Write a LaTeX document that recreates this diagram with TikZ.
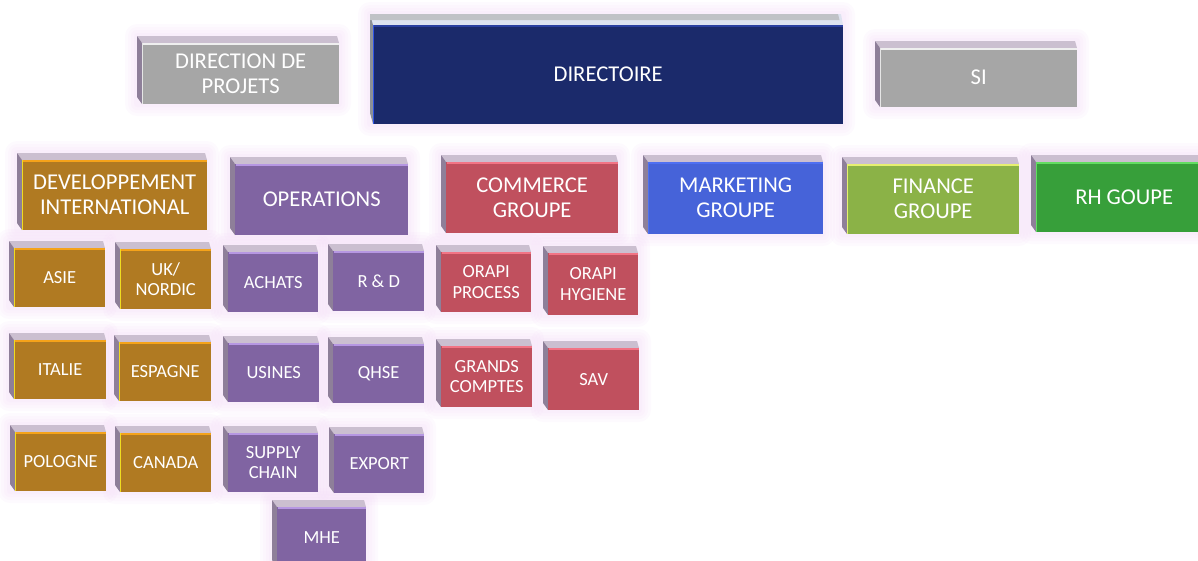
\documentclass[tikz,border=0pt]{standalone}
\usepackage{fontspec}
\setmainfont{Carlito}
\pgfdeclarelayer{glow}
\pgfsetlayers{glow,main}
% bevel colours
\definecolor{bevT}{HTML}{CBBFD0}
\definecolor{bevL}{HTML}{8E7F99}
\definecolor{glowc}{HTML}{F2D8F6}
% families: F fill, T top line, L left line, BT bevel top, BL bevel left
\definecolor{greyF}{HTML}{A6A6A6}\definecolor{greyT}{HTML}{EFEFEF}\definecolor{greyL}{HTML}{E6E6E6}
\colorlet{greyBT}{bevT}\colorlet{greyBL}{bevL}
\definecolor{navyF}{HTML}{1B2A6B}\definecolor{navyT}{HTML}{2A3FA0}\definecolor{navyL}{HTML}{3054E6}
\definecolor{navyBT}{HTML}{DEE3F0}\definecolor{navyBL}{HTML}{8C9098}
\definecolor{goldF}{HTML}{B07A22}\definecolor{goldT}{HTML}{F5A31A}\definecolor{goldL}{HTML}{F0DC20}
\colorlet{goldBT}{bevT}\colorlet{goldBL}{bevL}
\definecolor{purpF}{HTML}{8064A2}\definecolor{purpT}{HTML}{B697E2}\definecolor{purpL}{HTML}{8064A2}
\colorlet{purpBT}{bevT}\colorlet{purpBL}{bevL}
\definecolor{redF}{HTML}{C0505E}\definecolor{redT}{HTML}{F27485}\definecolor{redL}{HTML}{C0505E}
\colorlet{redBT}{bevT}\colorlet{redBL}{bevL}
\definecolor{blueF}{HTML}{4663D9}\definecolor{blueT}{HTML}{4F70F2}\definecolor{blueL}{HTML}{4F70F2}
\colorlet{blueBT}{bevT}\colorlet{blueBL}{bevL}
\definecolor{lgrnF}{HTML}{8BB247}\definecolor{lgrnT}{HTML}{E6F070}\definecolor{lgrnL}{HTML}{E6F070}
\colorlet{lgrnBT}{bevT}\colorlet{lgrnBL}{bevL}
\definecolor{grnF}{HTML}{379F3A}\definecolor{grnT}{HTML}{62DE62}\definecolor{grnL}{HTML}{62DE62}
\colorlet{grnBT}{bevT}\colorlet{grnBL}{bevL}
\newcommand\Lg{\fontsize{22.6}{25}\selectfont}
\newcommand\Sm{\fontsize{18.5}{20.5}\selectfont}
\def\bdx{5}\def\bdy{7}
% #1 name, #2 x0, #3 y0, #4 w, #5 h, #6 family, #7 text, #8 font
\newcommand\orgbox[8]{%
  \begin{pgfonlayer}{glow}
    \foreach \g in {12,9,6,3}{%
      \fill[glowc, opacity=0.13, rounded corners=\g pt]
        ({#2-\bdx-\g},{#3-\bdy-\g}) rectangle ({#2+#4+\g},{#3+#5+\g});}
  \end{pgfonlayer}
  \fill[#6BT] (#2,#3) -- ({#2-\bdx},{#3-\bdy}) -- ({#2+#4-2},{#3-\bdy}) -- ({#2+#4},#3) -- cycle;
  \fill[#6BL] (#2,#3) -- ({#2-\bdx},{#3-\bdy}) -- ({#2-\bdx},{#3+#5-\bdy}) -- (#2,{#3+#5}) -- cycle;
  \node[orgfront, fill=#6F, minimum width=#4, minimum height=#5, font=#8] (#1) at (#2,#3) {#7};
  \draw[#6T, line width=1.6pt] ([yshift=-0.8pt]#1.north west) -- ([yshift=-0.8pt]#1.north east);
  \draw[#6L, line width=1.4pt] ([xshift=0.7pt]#1.north west) -- ([xshift=0.7pt]#1.south west);
}
\begin{document}
\begin{tikzpicture}[x=1pt, y=-1pt,
  orgfront/.style={anchor=north west, inner sep=0pt, text=white, align=center}]
\useasboundingbox (0,0) rectangle (1198,560);
\clip (0,0) rectangle (1198,560);
% top row
\orgbox{dirproj}{142}{43}{197}{61}{grey}{DIRECTION DE\\PROJETS}{\Lg}
\def\bdx{3}\def\bdy{11}
\orgbox{directoire}{373}{25}{470}{99}{navy}{DIRECTOIRE}{\Lg}
\fill[navyBL!55!white] (directoire.north west) ++(-3,-11) coordinate (dtl) -- ++(468,0) -- ++(1.5,6) -- ++(-469.5,0) -- cycle;
\def\bdx{5}\def\bdy{7}
\orgbox{si}{880}{48}{197}{59}{grey}{SI}{\Lg}
% second row
\orgbox{devint}{22}{160}{185}{70}{gold}{DEVELOPPEMENT\\INTERNATIONAL}{\Lg}
\orgbox{operations}{235}{164}{173}{71}{purp}{OPERATIONS}{\Lg}
\orgbox{commerce}{446}{162}{172}{71}{red}{COMMERCE\\GROUPE}{\Lg}
\orgbox{marketing}{648}{162}{175}{72}{blue}{MARKETING\\GROUPE}{\Lg}
\orgbox{finance}{847}{164}{172}{70}{lgrn}{FINANCE\\GROUPE}{\Lg}
\orgbox{rh}{1036}{162}{176}{70}{grn}{RH GOUPE}{\Lg}
% third row
\orgbox{asie}{14}{248}{91}{59}{gold}{ASIE}{\Sm}
\orgbox{uk}{120}{249}{91}{60}{gold}{UK/\\NORDIC}{\Sm}
\orgbox{achats}{228}{252}{90}{60}{purp}{ACHATS}{\Sm}
\orgbox{rd}{333}{251}{91}{60}{purp}{R \& D}{\Sm}
\orgbox{process}{441}{252}{90}{60}{red}{ORAPI\\PROCESS}{\Sm}
\orgbox{hygiene}{548}{253}{90}{62}{red}{ORAPI\\HYGIENE}{\Sm}
% fourth row
\orgbox{italie}{14}{340}{92}{59}{gold}{ITALIE}{\Sm}
\orgbox{espagne}{119}{342}{92}{59}{gold}{ESPAGNE}{\Sm}
\orgbox{usines}{228}{343}{91}{59}{purp}{USINES}{\Sm}
\orgbox{qhse}{333}{344}{91}{59}{purp}{QHSE}{\Sm}
\orgbox{grands}{441}{346}{91}{61}{red}{GRANDS\\COMPTES}{\Sm}
\orgbox{sav}{548}{348}{91}{62}{red}{SAV}{\Sm}
% fifth row
\orgbox{pologne}{15}{432}{91}{59}{gold}{POLOGNE}{\Sm}
\orgbox{canada}{120}{433}{91}{59}{gold}{CANADA}{\Sm}
\orgbox{supply}{228}{433}{90}{59}{purp}{SUPPLY\\CHAIN}{\Sm}
\orgbox{export}{334}{434}{90}{59}{purp}{EXPORT}{\Sm}
% last
\orgbox{mhe}{277}{507}{89}{60}{purp}{MHE}{\Sm}
\end{tikzpicture}
\end{document}
